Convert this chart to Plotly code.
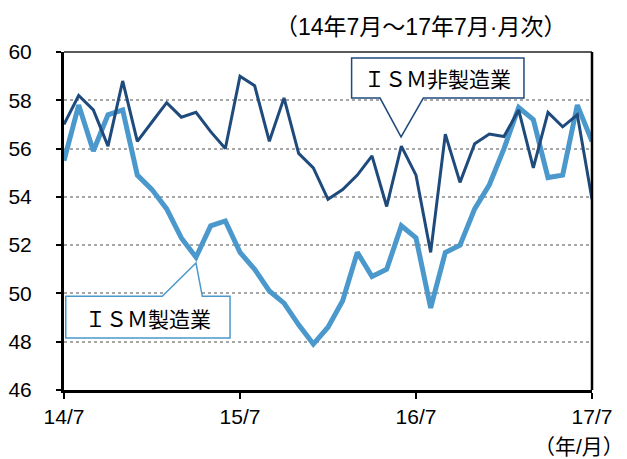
import plotly.graph_objects as go

months = list(range(37))
tick_pos = [0, 12, 24, 36]
tick_labels = ["14/7", "15/7", "16/7", "17/7"]

ism_mfg = [55.5, 57.8, 55.9, 57.4, 57.6, 54.9, 54.3, 53.5, 52.3, 51.5, 52.8, 53.0,
           51.7, 51.0, 50.1, 49.6, 48.7, 47.9, 48.6, 49.7, 51.7, 50.7, 51.0, 52.8,
           52.3, 49.4, 51.7, 52.0, 53.5, 54.5, 56.0, 57.7, 57.2, 54.8, 54.9, 57.8,
           56.3]
ism_nonmfg = [57.0, 58.2, 57.6, 56.1, 58.8, 56.3, 57.1, 57.9, 57.3, 57.5, 56.7, 56.0,
              59.0, 58.6, 56.3, 58.1, 55.8, 55.2, 53.9, 54.3, 54.9, 55.7, 53.6, 56.1,
              54.9, 51.7, 56.6, 54.6, 56.2, 56.6, 56.5, 57.6, 55.2, 57.5, 56.9, 57.4,
              53.9]

LIGHT = "#4B98CC"
DARK = "#1F4A7C"
FONT = "Liberation Sans, Arial, Noto Sans CJK JP"
CJK = "Noto Sans CJK JP"

fig = go.Figure()
fig.add_trace(go.Scatter(x=months, y=ism_mfg, mode="lines", name="ＩＳＭ製造業",
                         line=dict(color=LIGHT, width=5)))
fig.add_trace(go.Scatter(x=months, y=ism_nonmfg, mode="lines", name="ＩＳＭ非製造業",
                         line=dict(color=DARK, width=3)))

# callout for non-manufacturing
fig.add_shape(type="path", xref="x", yref="y",
              path="M 19.61,59.75 L 31.36,59.75 L 31.36,58.09 L 24.5,58.09 L 22.98,56.48 L 21.55,58.09 L 19.61,58.09 Z",
              line=dict(color=DARK, width=1.5), fillcolor="white", layer="above")
fig.add_annotation(x=25.48, y=58.92, xref="x", yref="y", text="ＩＳＭ非製造業",
                   showarrow=False, font=dict(size=21, color="#000000", family=CJK))
# callout for manufacturing
fig.add_shape(type="path", xref="x", yref="y",
              path="M 0.12,48.15 L 11.32,48.15 L 11.32,49.88 L 9.43,49.88 L 9.0,51.26 L 6.70,49.88 L 0.12,49.88 Z",
              line=dict(color=LIGHT, width=1.5), fillcolor="white", layer="above")
fig.add_annotation(x=5.72, y=49.0, xref="x", yref="y", text="ＩＳＭ製造業",
                   showarrow=False, font=dict(size=21, color="#000000", family=CJK))

# top and right borders
fig.add_shape(type="line", xref="paper", yref="paper", x0=0, x1=1, y0=1, y1=1,
              line=dict(color="#222222", width=1.5), layer="above")
fig.add_shape(type="line", xref="paper", yref="paper", x0=1, x1=1, y0=0, y1=1,
              line=dict(color="#000000", width=2.5), layer="above")

# title (top right) and unit label
fig.add_annotation(xref="paper", yref="paper", x=(420 - 64) / 528, y=1.0,
                   xanchor="center", yanchor="bottom", yshift=10,
                   text="（14年7月～17年7月·月次）", showarrow=False,
                   font=dict(size=23, color="#000000", family=FONT))
fig.add_annotation(xref="paper", yref="paper", x=(626 - 64) / 528, y=0,
                   xanchor="right", yanchor="top", yshift=-43,
                   text="（年/月）", showarrow=False,
                   font=dict(size=21, color="#000000", family=FONT))

fig.update_layout(
    width=627, height=459,
    margin=dict(l=64, r=35, t=52, b=69),
    paper_bgcolor="white", plot_bgcolor="white",
    showlegend=False,
    font=dict(family=FONT, size=21, color="#000000"),
    xaxis=dict(range=[0, 36], tickvals=tick_pos, ticktext=tick_labels,
               showgrid=False, zeroline=False, showline=True, linecolor="#000000",
               linewidth=3, ticks="outside", ticklen=6, tickwidth=2,
               tickcolor="#000000", tickfont=dict(size=21), automargin=False),
    yaxis=dict(range=[46, 60], dtick=2, showgrid=True, gridcolor="#A6A6A6",
               griddash="dot", gridwidth=1.5, zeroline=False, showline=True,
               linecolor="#000000", linewidth=3, ticks="outside", ticklen=5,
               tickwidth=2, tickcolor="#000000", tickfont=dict(size=21),
               ticklabelstandoff=20, automargin=False),
)

fig.write_html("out.html", config={"displayModeBar": False},
               post_script="document.body.style.margin='0';document.body.style.overflow='hidden';")
